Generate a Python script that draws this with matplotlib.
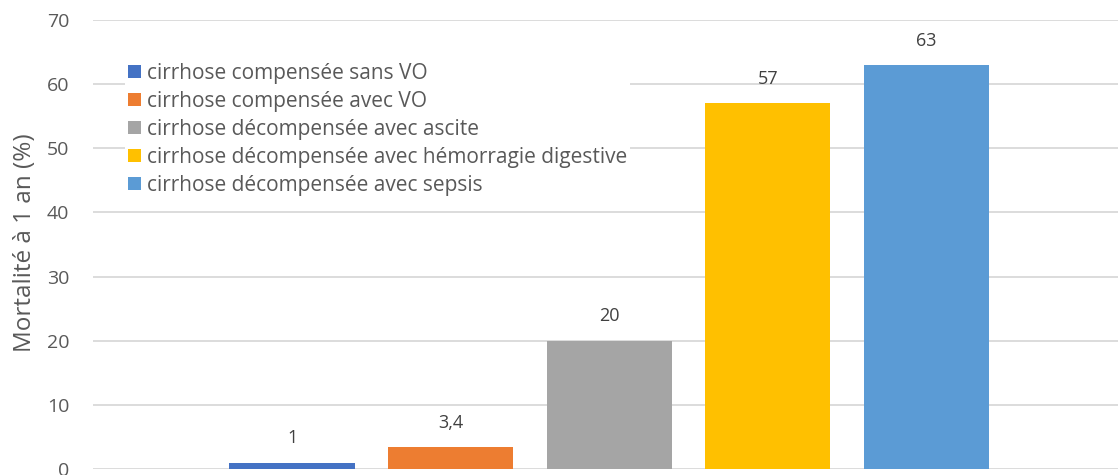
import matplotlib
matplotlib.use("Agg")
import matplotlib.pyplot as plt

series = ["cirrhose compensée sans VO",
          "cirrhose compensée avec VO",
          "cirrhose décompensée avec ascite",
          "cirrhose décompensée avec hémorragie digestive",
          "cirrhose décompensée avec sepsis"]
values = [1, 3.4, 20, 57, 63]
labels = ["1", "3,4", "20", "57", "63"]
colors = ["#4472C4", "#ED7D31", "#A5A5A5", "#FFC000", "#5B9BD5"]
yticks = [0, 10, 20, 30, 40, 50, 60, 70]

plt.rcParams['font.family'] = ['Open Sans', 'DejaVu Sans']
txt = "#595959"

fig = plt.figure(figsize=(11.18, 4.75), dpi=100)
ax = fig.add_axes([93/1118, 6/475, 1 - 93/1118, 449/475])

xs = list(range(len(values)))
for x, v, c, s in zip(xs, values, colors, series):
    ax.bar(x, v, width=0.79, color=c, label=s, zorder=3)
for x, v, l in zip(xs, values, labels):
    ax.annotate(l, (x, v), xytext=(0, 11), textcoords="offset points",
                ha="center", va="bottom", fontsize=13, color="#404040")

ax.set_xlim(-1.256, 5.21)
ax.set_ylim(0, 70)
ax.set_yticks(yticks)
ax.set_xticks([])
ax.tick_params(axis='y', length=0, labelsize=14, labelcolor=txt, pad=17)
for sp in ax.spines.values():
    sp.set_visible(False)
ax.grid(axis='y', color="#D9D9D9", linewidth=1.3, zorder=0)
ax.set_axisbelow(True)
ax.set_ylabel("Mortalité à 1 an (%)", fontsize=17.5, color=txt)
ax.yaxis.set_label_coords(-0.055, 0.505)

leg = ax.legend(loc="upper left", bbox_to_anchor=(0.021, 0.935), frameon=True,
                fontsize=15, handlelength=0.6, handleheight=0.6, handletextpad=0.3,
                labelspacing=0.34, borderpad=0.15, labelcolor=txt)
leg.get_frame().set_facecolor("white")
leg.get_frame().set_edgecolor("none")
leg.get_frame().set_alpha(1)

fig.savefig("out.png", dpi=100)
